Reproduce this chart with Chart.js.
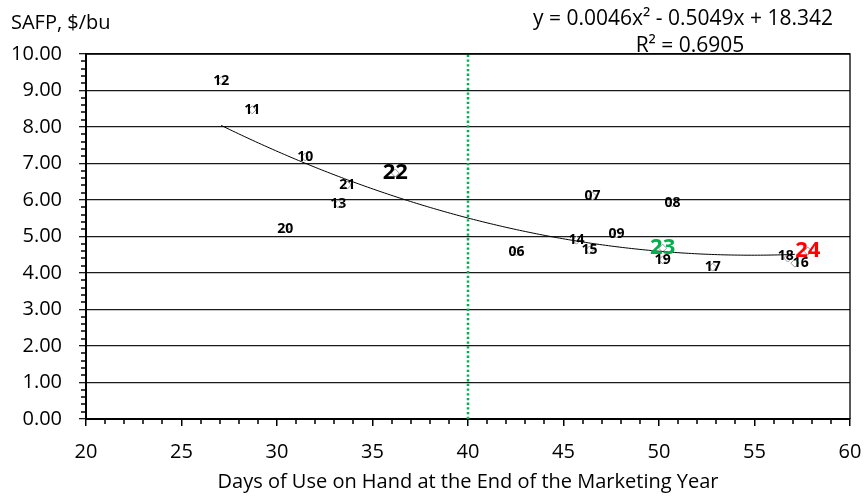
<!DOCTYPE html>
<html>
<head>
<meta charset="utf-8">
<script src="https://cdn.jsdelivr.net/npm/chart.js@4"></script>
<style>
html, body { margin: 0; padding: 0; background: #fff; }
#wrap { width: 864px; height: 496px; }
</style>
</head>
<body>
<div id="wrap"><canvas id="myChart"></canvas></div>
<script>
// marketing years (labels), days of use on hand, season-average farm price
const years = ['12', '11', '10', '21', '13', '20', '07', '08', '09', '14', '15', '06', '19', '17', '18', '16'];
const daysOnHand = [27.08, 28.70, 31.48, 33.68, 33.21, 30.43, 46.52, 50.71, 47.78, 45.68, 46.36, 42.54, 50.19, 52.81, 56.74, 57.11];
const safp = [9.27, 8.47, 7.18, 6.41, 5.89, 5.21, 6.11, 5.92, 5.07, 4.90, 4.63, 4.58, 4.36, 4.16, 4.41, 4.27];

// highlighted years
const hlYears = ['22', '23', '24'];
const hlDays = [36.19, 50.19, 57.79];
const hlSafp = [6.74, 4.68, 4.60];

// polynomial trend: y = c0 + c1*x + c2*x^2
const trendCoef = [18.342, -0.5049, 0.0046];
const trendText = ['y = 0.0046x\u00b2 - 0.5049x + 18.342', 'R\u00b2 = 0.6905'];

const xTicks = [20, 25, 30, 35, 40, 45, 50, 55, 60];
const yTicks = [0, 1, 2, 3, 4, 5, 6, 7, 8, 9, 10];
const refDays = 40;

const FONT = "'Open Sans', sans-serif";
const hlColor = { '22': '#000000', '23': '#00B050', '24': '#FF0000' };
// label nudges (px) where Excel placed a label beside its marker
const labelNudge = { '16': [6, 0], '18': [-2, -2] };

const overlay = {
    id: 'overlay',
    afterDatasetsDraw(chart) {
        const { ctx, chartArea: a, scales: { x, y } } = chart;
        ctx.save();

        // minor ticks
        ctx.strokeStyle = '#000';
        ctx.lineWidth = 1.5;
        ctx.beginPath();
        for (let v = 21; v < 60; v++) {
            if (v % 5 === 0) continue;
            const px = Math.round(x.getPixelForValue(v));
            ctx.moveTo(px, a.bottom);
            ctx.lineTo(px, a.bottom + 5);
        }
        for (let i = 1; i < 50; i++) {
            if (i % 5 === 0) continue;
            const py = Math.round(y.getPixelForValue(i / 5));
            ctx.moveTo(a.left - 5, py);
            ctx.lineTo(a.left, py);
        }
        ctx.stroke();

        // plot border (top / right)
        ctx.lineWidth = 1.3;
        ctx.beginPath();
        ctx.moveTo(a.left, a.top);
        ctx.lineTo(a.right, a.top);
        ctx.lineTo(a.right, a.bottom);
        ctx.stroke();

        // trend line
        const xmin = Math.min(...daysOnHand), xmax = Math.max(...daysOnHand);
        ctx.beginPath();
        const steps = 200;
        for (let i = 0; i <= steps; i++) {
            const xv = xmin + (xmax - xmin) * i / steps;
            const yv = trendCoef[0] + trendCoef[1] * xv + trendCoef[2] * xv * xv;
            const px = x.getPixelForValue(xv), py = y.getPixelForValue(yv);
            if (i === 0) ctx.moveTo(px, py); else ctx.lineTo(px, py);
        }
        ctx.lineWidth = 1;
        ctx.strokeStyle = '#000';
        ctx.stroke();

        // data labels
        ctx.textAlign = 'center';
        ctx.textBaseline = 'middle';
        ctx.font = 'bold 14px ' + FONT;
        ctx.fillStyle = '#000';
        years.forEach((t, i) => {
            const n = labelNudge[t] || [0, 0];
            ctx.fillText(t, x.getPixelForValue(daysOnHand[i]) + n[0], y.getPixelForValue(safp[i]) + n[1]);
        });
        ctx.font = 'bold 22px ' + FONT;
        hlYears.forEach((t, i) => {
            ctx.fillStyle = hlColor[t];
            ctx.fillText(t, x.getPixelForValue(hlDays[i]), y.getPixelForValue(hlSafp[i]));
        });

        // axis title and trend equation
        ctx.fillStyle = '#000';
        ctx.font = '20px ' + FONT;
        ctx.textAlign = 'left';
        ctx.fillText('SAFP, $/bu', 11, 23);
        ctx.font = '21px ' + FONT;
        ctx.textAlign = 'center';
        ctx.fillText(trendText[0], 683, 19);
        ctx.fillText(trendText[1], 690, 46);

        ctx.restore();
    }
};

const ctx = document.getElementById('myChart').getContext('2d');
const myChart = new Chart(ctx, {
    type: 'scatter',
    data: {
        datasets: [
            {
                label: 'years',
                data: daysOnHand.map((d, i) => ({ x: d, y: safp[i] })),
                pointStyle: 'rectRot',
                pointRadius: 4,
                borderColor: '#9a9a9a',
                backgroundColor: '#fff',
                borderWidth: 1
            },
            {
                label: 'highlight',
                data: hlDays.map((d, i) => ({ x: d, y: hlSafp[i] })),
                pointStyle: 'rectRot',
                pointRadius: 4,
                borderColor: '#9a9a9a',
                backgroundColor: '#fff',
                borderWidth: 1
            },
            {
                label: 'ref',
                data: [{ x: refDays, y: yTicks[0] }, { x: refDays, y: yTicks[yTicks.length - 1] }],
                showLine: true,
                pointRadius: 0,
                borderColor: '#00B050',
                borderWidth: 2.5,
                borderDash: [2.3, 2.4]
            }
        ]
    },
    options: {
        responsive: true,
        maintainAspectRatio: false,
        animation: false,
        layout: { padding: { top: 54, right: 14, left: 0, bottom: 0 } },
        plugins: {
            legend: { display: false },
            tooltip: { enabled: false }
        },
        scales: {
            x: {
                type: 'linear',
                min: 20,
                max: 60,
                afterBuildTicks: s => { s.ticks = xTicks.map(v => ({ value: v })); },
                afterFit: s => { s.height = 77; s.paddingLeft = 0; s.paddingRight = 0; },
                ticks: { font: { size: 20, family: FONT }, color: '#000', padding: 14 },
                grid: { drawOnChartArea: false, tickLength: 7, color: '#000', lineWidth: 1.5 },
                border: { color: '#000', width: 2 },
                title: {
                    display: true,
                    text: 'Days of Use on Hand at the End of the Marketing Year',
                    font: { size: 20, family: FONT },
                    color: '#000',
                    padding: { top: 0, bottom: 2 }
                }
            },
            y: {
                min: 0,
                max: 10,
                afterBuildTicks: s => { s.ticks = yTicks.map(v => ({ value: v })); },
                afterFit: s => { s.width = 86; s.paddingTop = 0; s.paddingBottom = 0; },
                ticks: {
                    font: { size: 20, family: FONT },
                    color: '#000',
                    padding: 17,
                    callback: v => v.toFixed(2)
                },
                grid: { color: '#1a1a1a', lineWidth: 1.3, tickLength: 7 },
                border: { color: '#000', width: 2 }
            }
        }
    },
    plugins: [overlay]
});
</script>
</body>
</html>
